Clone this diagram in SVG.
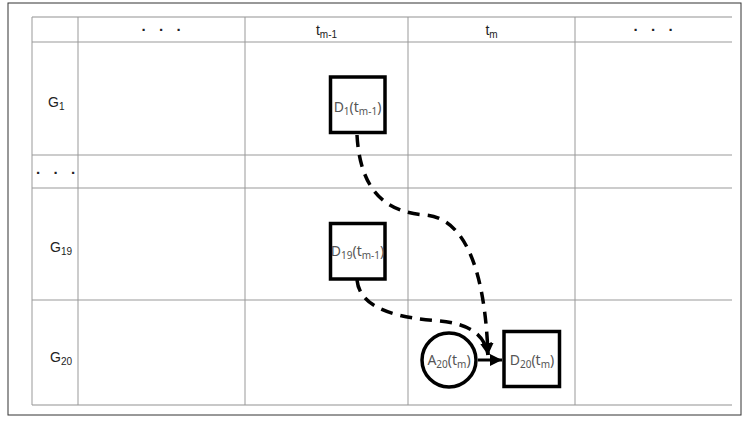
<svg xmlns="http://www.w3.org/2000/svg" width="749" height="421" viewBox="0 0 749 421">
<style>
.grid{stroke:#999;stroke-width:1;fill:none}
.edge{stroke:#c8c8c8;stroke-width:2;fill:none}
.lbl{font-family:"Liberation Sans",Arial,sans-serif;font-size:14px;fill:#222}
.dots{font-family:"Liberation Sans",Arial,sans-serif;font-size:15px;fill:#222;white-space:pre;font-weight:bold}
.node{fill:#fff;stroke:#000;stroke-width:3.5}
.ntxt{font-family:"Noto Sans","DejaVu Sans",sans-serif;font-size:14px;fill:#555;text-anchor:middle}
.dash{fill:none;stroke:#000;stroke-width:3.5;stroke-dasharray:12 8}
.solid{fill:none;stroke:#000;stroke-width:3}
</style>
<defs>
<marker id="ah" viewBox="0 0 12 12" refX="12" refY="6" markerWidth="12" markerHeight="12" markerUnits="userSpaceOnUse" orient="auto">
<path d="M0,0 L12,6 L0,12 Z" fill="#000"/>
</marker>
</defs>
<rect x="8" y="3" width="733" height="412" fill="#fff" stroke="#333" stroke-width="1"/>
<g id="table">
<line class="edge" x1="32" y1="17" x2="732" y2="17"/>
<line class="edge" x1="32" y1="405" x2="732" y2="405"/>
<line class="grid" x1="32" y1="42" x2="732" y2="42"/>
<line class="grid" x1="32" y1="155" x2="732" y2="155"/>
<line class="grid" x1="32" y1="188" x2="732" y2="188"/>
<line class="grid" x1="32" y1="300" x2="732" y2="300"/>
<line class="grid" x1="32" y1="17" x2="32" y2="405"/>
<line class="grid" x1="78" y1="17" x2="78" y2="405"/>
<line class="grid" x1="245" y1="17" x2="245" y2="405"/>
<line class="grid" x1="408" y1="17" x2="408" y2="405"/>
<line class="grid" x1="575" y1="17" x2="575" y2="405"/>
<text class="dots" x="161.5" y="35" text-anchor="middle">·   ·   ·</text>
<text class="lbl" x="326.5" y="35" text-anchor="middle">t<tspan font-size="10" dy="3">m-1</tspan></text>
<text class="lbl" x="491.5" y="35" text-anchor="middle">t<tspan font-size="10" dy="3">m</tspan></text>
<text class="dots" x="653.5" y="35" text-anchor="middle">·   ·   ·</text>
<text class="lbl" x="48" y="107">G<tspan font-size="10" dy="3">1</tspan></text>
<text class="dots" x="56" y="178" text-anchor="middle">·   ·   ·</text>
<text class="lbl" x="50" y="252">G<tspan font-size="10" dy="3">19</tspan></text>
<text class="lbl" x="50" y="362">G<tspan font-size="10" dy="3">20</tspan></text>
</g>
<g id="connectors">
<path class="dash" d="M357,135 C360,190 385,212 425,215 C465,218 485,270 488,355" marker-end="url(#ah)"/>
<path class="dash" d="M357,280 C360,310 400,318 440,321 C470,324 485,335 488,355" marker-end="url(#ah)"/>
<path class="solid" d="M478,360 L502,360" marker-end="url(#ah)"/>
</g>
<g id="D1">
<rect class="node" x="330.5" y="77" width="54.5" height="55.5"/>
<text class="ntxt" x="357.5" y="112">D<tspan font-size="10" dy="3">1</tspan><tspan dy="-3">(t</tspan><tspan font-size="10" dy="3">m-1</tspan><tspan dy="-3">)</tspan></text>
</g>
<g id="D19">
<rect class="node" x="330.5" y="223.5" width="54.5" height="55.5"/>
<text class="ntxt" x="357.5" y="256">D<tspan font-size="10" dy="3">19</tspan><tspan dy="-3">(t</tspan><tspan font-size="10" dy="3">m-1</tspan><tspan dy="-3">)</tspan></text>
</g>
<g id="A20">
<circle class="node" cx="449" cy="360" r="27" stroke-width="3"/>
<text class="ntxt" x="449" y="365">A<tspan font-size="10" dy="3">20</tspan><tspan dy="-3">(t</tspan><tspan font-size="10" dy="3">m</tspan><tspan dy="-3">)</tspan></text>
</g>
<g id="D20">
<rect class="node" x="504" y="331.5" width="55.5" height="55"/>
<text class="ntxt" x="532" y="365">D<tspan font-size="10" dy="3">20</tspan><tspan dy="-3">(t</tspan><tspan font-size="10" dy="3">m</tspan><tspan dy="-3">)</tspan></text>
</g>
</svg>
